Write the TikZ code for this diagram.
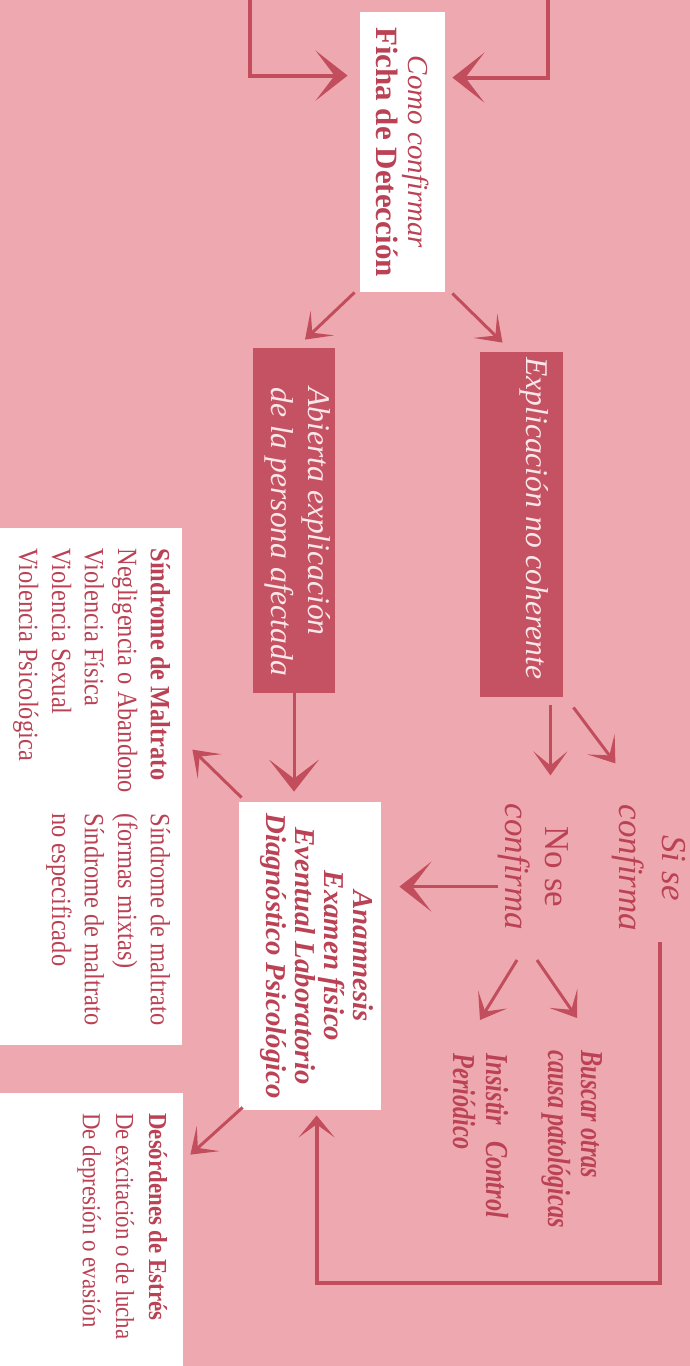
\documentclass[tikz,border=0pt]{standalone}
\usepackage{fontspec}
\setmainfont{Liberation Serif}
\newfontfamily\narrowrm{Liberation Serif}[FakeStretch=0.88]
\newfontfamily\narrowit{Liberation Serif}[FakeStretch=0.76]
\usetikzlibrary{arrows.meta,calc}

\definecolor{bgpink}{HTML}{EEA9B0}
\definecolor{darkrose}{HTML}{C45262}
\definecolor{linkred}{HTML}{C24E5D}
\definecolor{textred}{HTML}{BA4254}
\definecolor{palepink}{HTML}{FBE6E9}

\tikzset{
  link/.style={draw=linkred, line width=1.5pt},
  bigtip/.style={-{Stealth[length=16pt,width=25pt,inset=9.5pt]}},
  smalltip/.style={-{Stealth[length=12pt,width=17pt,inset=7pt]}},
  whitebox/.style={fill=white, inner sep=0pt},
  darkbox/.style={fill=darkrose, inner sep=0pt},
  rottext/.style={rotate=-90, inner sep=0pt, anchor=base west, align=left, text=textred},
}

\begin{document}
\begin{tikzpicture}[x=0.5pt, y=-0.5pt]
  \fill[bgpink] (0,0) rectangle (690,1366);
  \useasboundingbox (0,0) rectangle (690,1366);

  % boxes
  \node[whitebox, minimum width=42.5pt, minimum height=140pt] (ficha) at (402.5,152) {};
  \node[darkbox, minimum width=41pt, minimum height=172.5pt] (abierta) at (294,520.5) {};
  \node[darkbox, minimum width=41.5pt, minimum height=172.5pt] (explic) at (521.5,524.5) {};
  \node[whitebox, minimum width=71pt, minimum height=154pt] (anam) at (310,956) {};
  \node[whitebox, minimum width=91pt, minimum height=258.5pt] (sindrome) at (91,786.5) {};
  \node[whitebox, minimum width=91.5pt, minimum height=136.5pt] (desor) at (91.5,1229.5) {};

  % texts (base = last line)
  \node[rotate=-90, align=center, text=textred, font=\fontsize{15.5}{16}\selectfont] (fichatxt) at (ficha.center)
    {{\itshape\fontsize{14.5}{16}\selectfont Como confirmar}\\{\bfseries Ficha de Detección}};
  \node[rottext, text=palepink, font=\fontsize{15.8}{18.5}\selectfont\itshape] (abiertatxt) at (271,387)
    {Abierta explicación\\de la persona afectada};
  \node[rottext, text=palepink, font=\fontsize{15.8}{18.5}\selectfont\itshape] (explictxt) at (526,357)
    {Explicación no coherente};
  \node[rotate=-90, align=center, text=textred, font=\fontsize{14.4}{14.5}\selectfont\bfseries\itshape] (anamtxt) at (316.5,956)
    {Anamnesis\\Examen físico\\Eventual Laboratorio\\Diagnóstico Psicológico};
  \node[rotate=-90, align=center, text=textred, font=\fontsize{17.5}{21.5}\selectfont\itshape] (sise) at (648.5,868)
    {Si se\\confirma};
  \node[rotate=-90, align=center, text=textred, font=\fontsize{17.5}{20}\selectfont\itshape] (nose) at (533,867)
    {{\upshape No se}\\confirma};
  \node[rottext, font=\narrowit\fontsize{16}{16.5}\selectfont\bfseries\itshape] (buscar) at (548,1050)
    {Buscar otras\\causa patológicas};
  \node[rottext, font=\narrowit\fontsize{16}{16.5}\selectfont\bfseries\itshape] (insistir) at (453,1053)
    {Insistir\enspace Control\\Periódico};
  \node[rottext, font=\narrowrm\fontsize{13.9}{16.5}\selectfont] (sm1) at (19,548)
    {\textbf{Síndrome de Maltrato}\\Negligencia o Abandono\\Violencia Física\\Violencia Sexual\\Violencia Psicológica};
  \node[rottext, font=\narrowrm\fontsize{13.9}{16.5}\selectfont] (sm2) at (52,813)
    {Síndrome de maltrato\\(formas mixtas)\\Síndrome de maltrato\\no especificado};
  \node[rottext, font=\narrowrm\fontsize{13}{16.5}\selectfont] (desortxt) at (83,1113)
    {\textbf{Desórdenes de Estrés}\\De excitación o de lucha\\De depresión o evasión};

  % connectors
  \coordinate (topL) at (250,-3);
  \coordinate (topR) at (548,-3);
  \coordinate (loopstart) at (660,942);
  \coordinate (noseL) at (517,960);
  \coordinate (noseR) at (537,960);
  \draw[link, line width=2pt, bigtip] (topL) |- ($(ficha.north west)+(-12,64)$);
  \draw[link, line width=2pt, bigtip] (topR) |- ($(ficha.north east)+(7,66)$);
  \draw[link, smalltip] ($(ficha.south west)+(-5,0)$) -- ($(abierta.north)+(11,-8)$);
  \draw[link, smalltip] ($(ficha.south east)+(7,1)$) -- ($(explic.north)+(-19,-9)$);
  \draw[link, bigtip] (abierta.south) -- ($(anam.north -| abierta.south)+(0,-10)$);
  \draw[link, smalltip] ($(explic.south east)+(-13,8)$) -- ($(explic.south east)+(-13,78)$);
  \draw[link, smalltip] ($(explic.south east)+(10,10)$) -- ($(explic.south east)+(52,66)$);
  \draw[link, bigtip] ($(anam.north east)+(117,85)$) -- ($(anam.north east)+(18,85)$);
  \draw[link, smalltip] (noseR) -- ($(buscar.base west)+(29,-32)$);
  \draw[link, smalltip] (noseL) -- ($(insistir.base west)+(27,-33)$);
  \draw[link, smalltip] ($(anam.north west)+(3,-4)$) -- ($(sindrome.north east)+(10,222)$);
  \draw[link, smalltip] ($(anam.south west)+(4,-3)$) -- ($(desor.north east)+(7,62)$);
  \draw[link, line width=2pt, -{Stealth[length=11pt,width=18pt,inset=6.5pt]}]
    (loopstart) |- ($(anam.south west)+(78,173)$) -- ($(anam.south west)+(78,5)$);
\end{tikzpicture}
\end{document}
